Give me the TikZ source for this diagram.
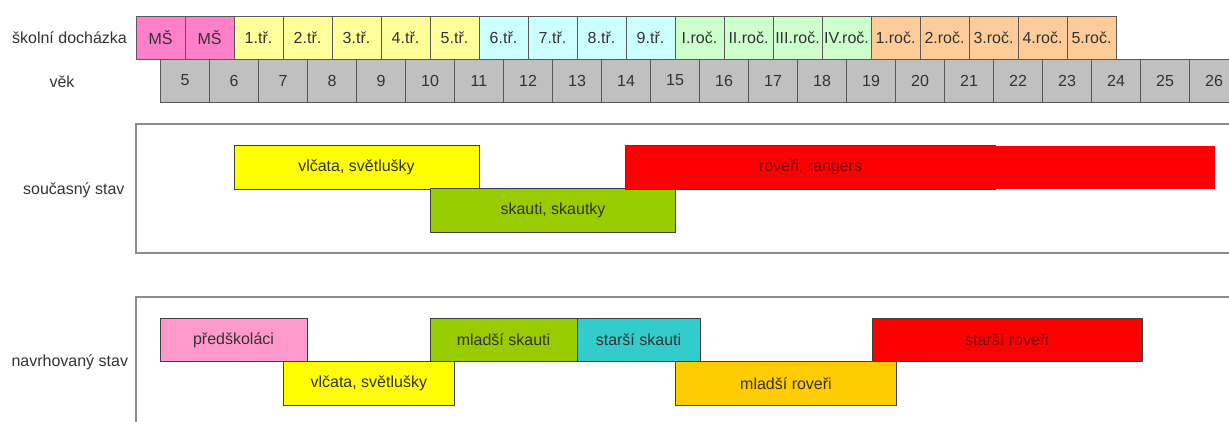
\documentclass[tikz,border=0pt]{standalone}
\usepackage{fontspec}
\setmainfont{Liberation Sans}
\usepackage{tikz}

\definecolor{msPink}{HTML}{FF80C8}
\definecolor{tridaYellow}{HTML}{FFFF99}
\definecolor{tridaCyan}{HTML}{CCFFFF}
\definecolor{rocGreen}{HTML}{CCFFCC}
\definecolor{vsOrange}{HTML}{FFCC99}
\definecolor{vekGray}{HTML}{C0C0C0}
\definecolor{predPink}{HTML}{FF99CC}
\definecolor{vlcYellow}{HTML}{FFFF00}
\definecolor{skaGreen}{HTML}{99CC00}
\definecolor{sskCyan}{HTML}{33CCCC}
\definecolor{mroOrange}{HTML}{FFCC00}
\definecolor{rovRed}{HTML}{FF0000}

\begin{document}
\begin{tikzpicture}[x=1pt, y=-1pt,
    every node/.style={font=\fontsize{16}{19}\selectfont, text=black!80},
    cell/.style={shape=rectangle, draw=black!65, line width=1pt, minimum width=49pt, minimum height=43pt, inner sep=0pt},
    bar/.style={shape=rectangle, draw=black!75, line width=1pt, minimum height=43.5pt, inner sep=0pt},
    frame/.style={draw=black!45, line width=2pt}]
    \useasboundingbox (0,0) rectangle (1229,421);
    \clip (0,0) rectangle (1229,421);

    % labels
    \node[] at (69.5,38) (SKOLA) {školní docházka};
    \node[] at (62,82) (VEK) {věk};
    \node[] at (73.8,190) (SOUC) {současný stav};
    \node[] at (69.8,362) (NAVRH) {navrhovaný stav};

    % skolni dochazka
    \node[cell, fill=msPink] at (160.5,37.5) (MS1) {MŠ};
    \node[cell, fill=msPink] at (209.5,37.5) (MS2) {MŠ};
    \node[cell, fill=tridaYellow] at (258.5,37.5) (T1) {1.tř.};
    \node[cell, fill=tridaYellow] at (307.5,37.5) (T2) {2.tř.};
    \node[cell, fill=tridaYellow] at (356.5,37.5) (T3) {3.tř.};
    \node[cell, fill=tridaYellow] at (405.5,37.5) (T4) {4.tř.};
    \node[cell, fill=tridaYellow] at (454.5,37.5) (T5) {5.tř.};
    \node[cell, fill=tridaCyan] at (503.5,37.5) (T6) {6.tř.};
    \node[cell, fill=tridaCyan] at (552.5,37.5) (T7) {7.tř.};
    \node[cell, fill=tridaCyan] at (601.5,37.5) (T8) {8.tř.};
    \node[cell, fill=tridaCyan] at (650.5,37.5) (T9) {9.tř.};
    \node[cell, fill=rocGreen] at (699.5,37.5) (R1) {I.roč.};
    \node[cell, fill=rocGreen] at (748.5,37.5) (R2) {II.roč.};
    \node[cell, fill=rocGreen] at (797.5,37.5) (R3) {III.roč.};
    \node[cell, fill=rocGreen] at (846.5,37.5) (R4) {IV.roč.};
    \node[cell, fill=vsOrange] at (895.5,37.5) (U1) {1.roč.};
    \node[cell, fill=vsOrange] at (944.5,37.5) (U2) {2.roč.};
    \node[cell, fill=vsOrange] at (993.5,37.5) (U3) {3.roč.};
    \node[cell, fill=vsOrange] at (1042.5,37.5) (U4) {4.roč.};
    \node[cell, fill=vsOrange] at (1091.5,37.5) (U5) {5.roč.};

    % vek
    \node[cell, fill=vekGray] at (185,80.5) (A5) {5};
    \node[cell, fill=vekGray] at (234,80.5) (A6) {6};
    \node[cell, fill=vekGray] at (283,80.5) (A7) {7};
    \node[cell, fill=vekGray] at (332,80.5) (A8) {8};
    \node[cell, fill=vekGray] at (381,80.5) (A9) {9};
    \node[cell, fill=vekGray] at (430,80.5) (A10) {10};
    \node[cell, fill=vekGray] at (479,80.5) (A11) {11};
    \node[cell, fill=vekGray] at (528,80.5) (A12) {12};
    \node[cell, fill=vekGray] at (577,80.5) (A13) {13};
    \node[cell, fill=vekGray] at (626,80.5) (A14) {14};
    \node[cell, fill=vekGray] at (675,80.5) (A15) {15};
    \node[cell, fill=vekGray] at (724,80.5) (A16) {16};
    \node[cell, fill=vekGray] at (773,80.5) (A17) {17};
    \node[cell, fill=vekGray] at (822,80.5) (A18) {18};
    \node[cell, fill=vekGray] at (871,80.5) (A19) {19};
    \node[cell, fill=vekGray] at (920,80.5) (A20) {20};
    \node[cell, fill=vekGray] at (969,80.5) (A21) {21};
    \node[cell, fill=vekGray] at (1018,80.5) (A22) {22};
    \node[cell, fill=vekGray] at (1067,80.5) (A23) {23};
    \node[cell, fill=vekGray] at (1116,80.5) (A24) {24};
    \node[cell, fill=vekGray] at (1165,80.5) (A25) {25};
    \node[cell, fill=vekGray] at (1214,80.5) (A26) {26};

    % soucasny stav
    \draw[frame] (1240,124) -- (135.5,124) -- (135.5,253) -- (1240,253);
    \node[bar, fill=vlcYellow, minimum width=245pt] at (356.5,167.3) (VLC) {vlčata, světlušky};
    \node[bar, fill=skaGreen, minimum width=245pt] at (553,210.5) (SKA) {skauti, skautky};
    \node[bar, draw=none, fill=rovRed, minimum width=220pt] at (1105,167.3) (ROVx) {};
    \draw[white, dotted, line width=1pt] (ROVx.north west) -- (ROVx.north east) -- (ROVx.south east) -- (ROVx.south west);
    \node[bar, draw=none, fill=rovRed, minimum width=369pt, text=red!50!black] at (810.5,167.3) (ROV) {roveři, rangers};
    \draw[black!75, line width=1pt] (ROV.north east) -- (ROV.north west) -- (ROV.south west) -- (ROV.south east);

    % navrhovany stav
    \draw[frame] (1240,296.5) -- (135.5,296.5) -- (135.5,430);
    \node[bar, fill=predPink, minimum width=147pt] at (233.5,340) (PRE) {předškoláci};
    \node[bar, fill=vlcYellow, minimum width=171pt] at (368.8,383.3) (VLC2) {vlčata, světlušky};
    \node[bar, fill=skaGreen, minimum width=147pt] at (503.5,340) (MSK) {mladší skauti};
    \node[bar, fill=sskCyan, minimum width=123pt] at (638.5,340) (SSK) {starší skauti};
    \node[bar, fill=mroOrange, minimum width=221pt] at (786,383.3) (MRO) {mladší roveři};
    \node[bar, fill=rovRed, minimum width=270pt, text=red!50!black] at (1007,340) (SRO) {starší roveři};
\end{tikzpicture}
\end{document}
